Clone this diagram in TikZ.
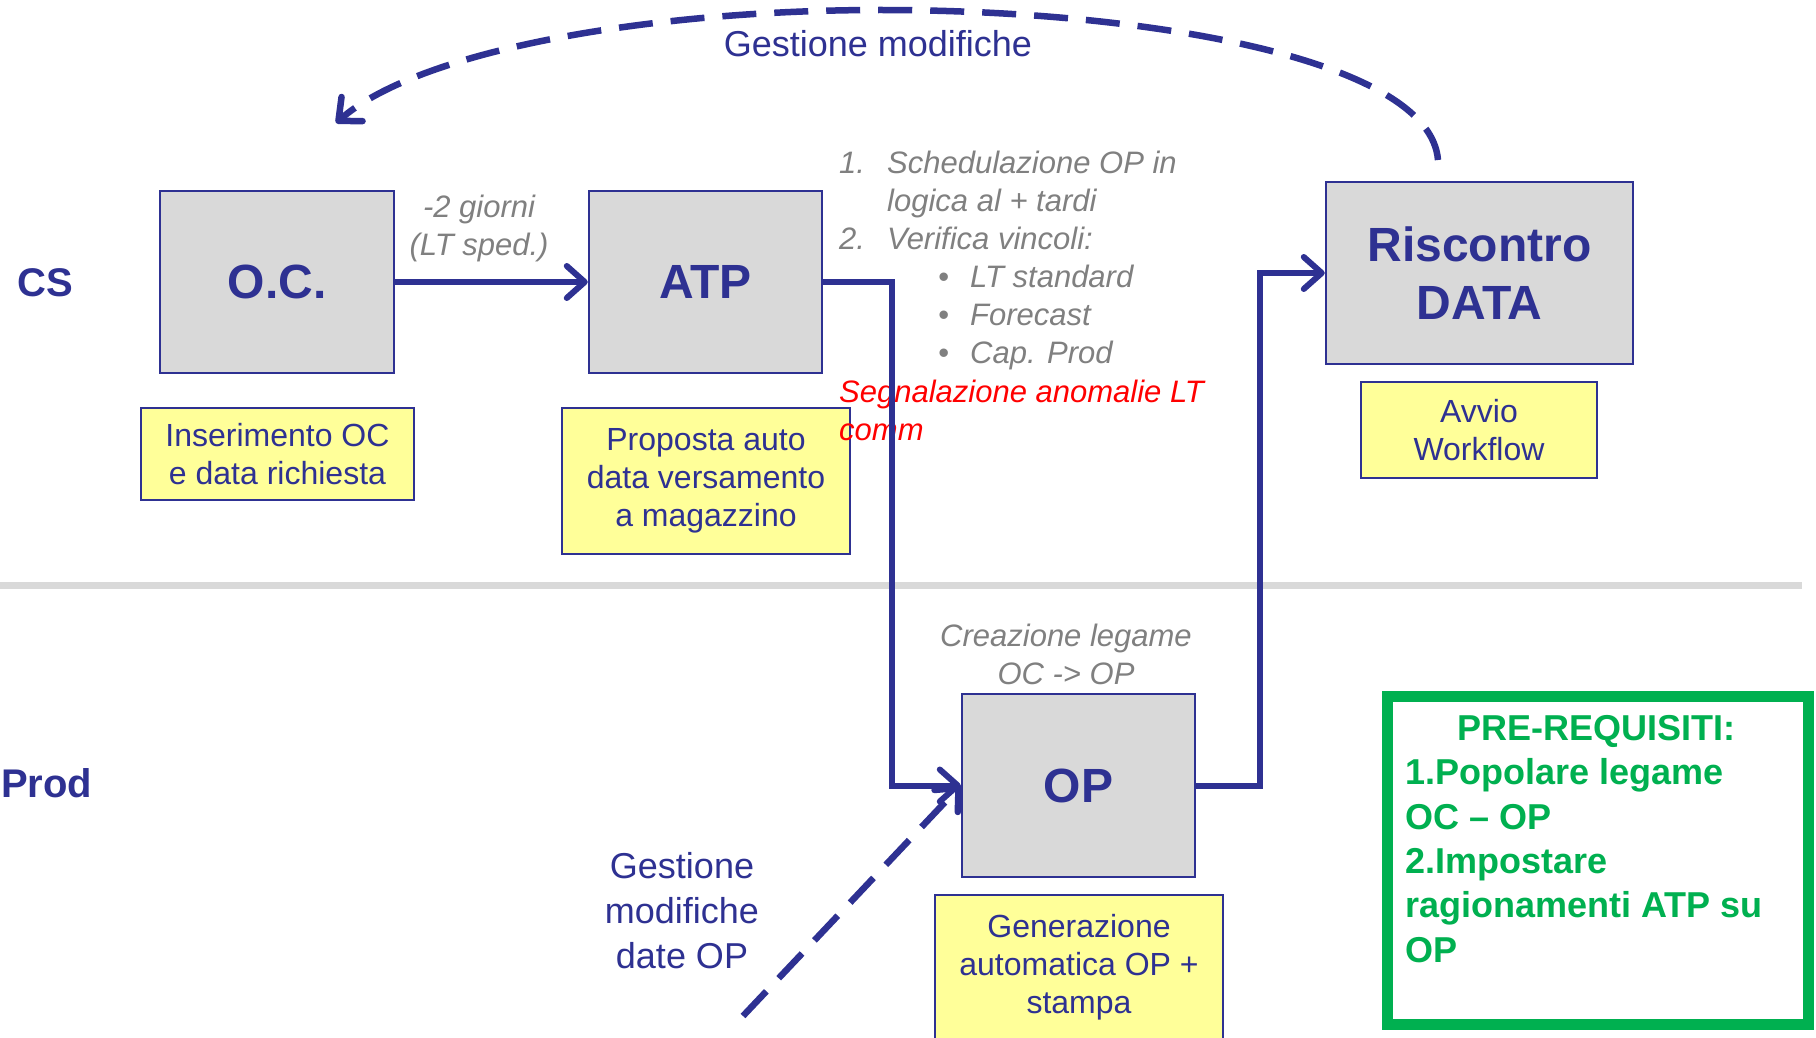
\documentclass[tikz,border=0pt]{standalone}
\usepackage{fontspec}
\setmainfont{Liberation Sans}
\usetikzlibrary{arrows.meta}
\definecolor{navy}{RGB}{46,49,146}
\definecolor{boxgray}{RGB}{217,217,217}
\definecolor{noteyellow}{RGB}{255,255,153}
\definecolor{reqgreen}{RGB}{0,176,80}
\definecolor{txtgray}{RGB}{128,128,128}
\definecolor{sepgray}{RGB}{217,217,217}
\begin{document}
\begin{tikzpicture}[x=1pt,y=-1pt,
  procbox/.style={draw=navy, line width=2.5pt, fill=boxgray, inner sep=0pt, text=navy, font=\fontsize{48}{58}\selectfont\bfseries, align=center},
  notebox/.style={draw=navy, line width=2.5pt, fill=noteyellow, inner sep=0pt, text=navy, font=\fontsize{32}{38}\selectfont, align=center},
  lanelabel/.style={text=navy, font=\fontsize{40}{48}\selectfont\bfseries, inner sep=0pt},
  graynote/.style={text=txtgray, font=\fontsize{31}{38}\selectfont\itshape, inner sep=0pt},
  rednote/.style={text=red, font=\fontsize{31}{38}\selectfont\itshape, inner sep=0pt},
  bluenote/.style={text=navy, font=\fontsize{36}{45}\selectfont, inner sep=0pt},
  greentext/.style={text=reqgreen, font=\fontsize{36}{44.3}\selectfont\bfseries, inner sep=0pt},
  conn/.style={draw=navy, line width=6pt, -{Straight Barb[length=18pt,width=32pt,round]}},
  dashconn/.style={draw=navy, line width=6.5pt, dash pattern=on 34pt off 18pt, -{Straight Barb[length=18pt,width=32pt,round]}},
]
\fill[white] (0,0) rectangle (1816,1038);
\useasboundingbox (0,0) rectangle (1816,1038);

% separator
\draw[sepgray, line width=6.5pt] (0,585.5) -- (1802,585.5);

% lane labels
\node[lanelabel, anchor=base west] (cs) at (17,296) {CS};
\node[lanelabel, anchor=base west] (prod) at (1,797) {Prod};

% process boxes
\node[procbox, minimum width=234, minimum height=182] (oc) at (277,282) {O.C.};
\node[procbox, minimum width=233, minimum height=182] (atp) at (705.5,282) {ATP};
\node[procbox, minimum width=307, minimum height=182] (ris) at (1479.5,273) {Riscontro\\DATA};
\node[procbox, minimum width=233, minimum height=183] (op) at (1078.5,785.5) {OP};

% notes
\node[notebox, minimum width=273, minimum height=92] (ins) at (277.5,454) {Inserimento OC\\e data richiesta};
\node[notebox, minimum width=288, minimum height=146] (prop) at (706,481) {Proposta auto\\data versamento\\a magazzino};
\node[notebox, minimum width=236, minimum height=96] (avvio) at (1479,430) {Avvio\\Workflow};
\node[notebox, minimum width=288, minimum height=145] (gen) at (1079,967.5) {Generazione\\automatica OP +\\stampa};

% connector labels (anchor=base = baseline of the last line)
\node[graynote, anchor=base, align=center] (giorni) at (479,255) {-2 giorni\\(LT sped.)};
\node[graynote, anchor=base west, align=left] (sched) at (839,363) {\makebox[48pt][l]{1.}Schedulazione OP in\\
\hspace*{48pt}logica al + tardi\\
\makebox[48pt][l]{2.}Verifica vincoli:\\
\hspace*{99pt}\makebox[32pt][l]{\textbullet}LT standard\\
\hspace*{99pt}\makebox[32pt][l]{\textbullet}Forecast\\
\hspace*{99pt}\makebox[32pt][l]{\textbullet}Cap. Prod};
\node[rednote, anchor=base west, align=left] (anom) at (839,440) {Segnalazione anomalie LT\\comm};
\node[graynote, anchor=base, align=center] (legame) at (1066,684) {Creazione legame\\OC -> OP};
\node[bluenote, anchor=base] (gm) at (878,57) {Gestione modifiche};
\node[bluenote, anchor=base, align=center] (gmop) at (682,968) {Gestione\\modifiche\\date OP};

% connectors
\coordinate (bend1) at (892,785.5);
\coordinate (bend2) at (1260,273);
\draw[conn] (oc.east) -- (atp.west);
\draw[conn] (atp.east) -| (bend1) -- (op.west);
\draw[conn] (op.east) -| (bend2) -- (ris.west);

\coordinate (arcstart) at (1438,160);
\coordinate (arctop) at (880,10);
\coordinate (arcend) at (336,123);
\draw[dashconn] (arcstart) .. controls (1430,60) and (1150,10) .. (arctop) .. controls (650,10) and (420,50) .. (arcend);

\coordinate (dstart) at (743,1016);
\draw[dashconn] (dstart) -- (op.west);

% prerequisites
\node[draw=reqgreen, line width=11pt, minimum width=421, minimum height=328, inner sep=0pt] (req) at (1597.5,860) {};
\node[greentext, anchor=base] (reqtitle) at (1596,740) {PRE-REQUISITI:};
\node[greentext, anchor=base west, align=left] (reqlist) at (1405,962) {1.Popolare legame\\OC – OP\\2.Impostare\\ragionamenti ATP su\\OP};
\end{tikzpicture}
\end{document}
